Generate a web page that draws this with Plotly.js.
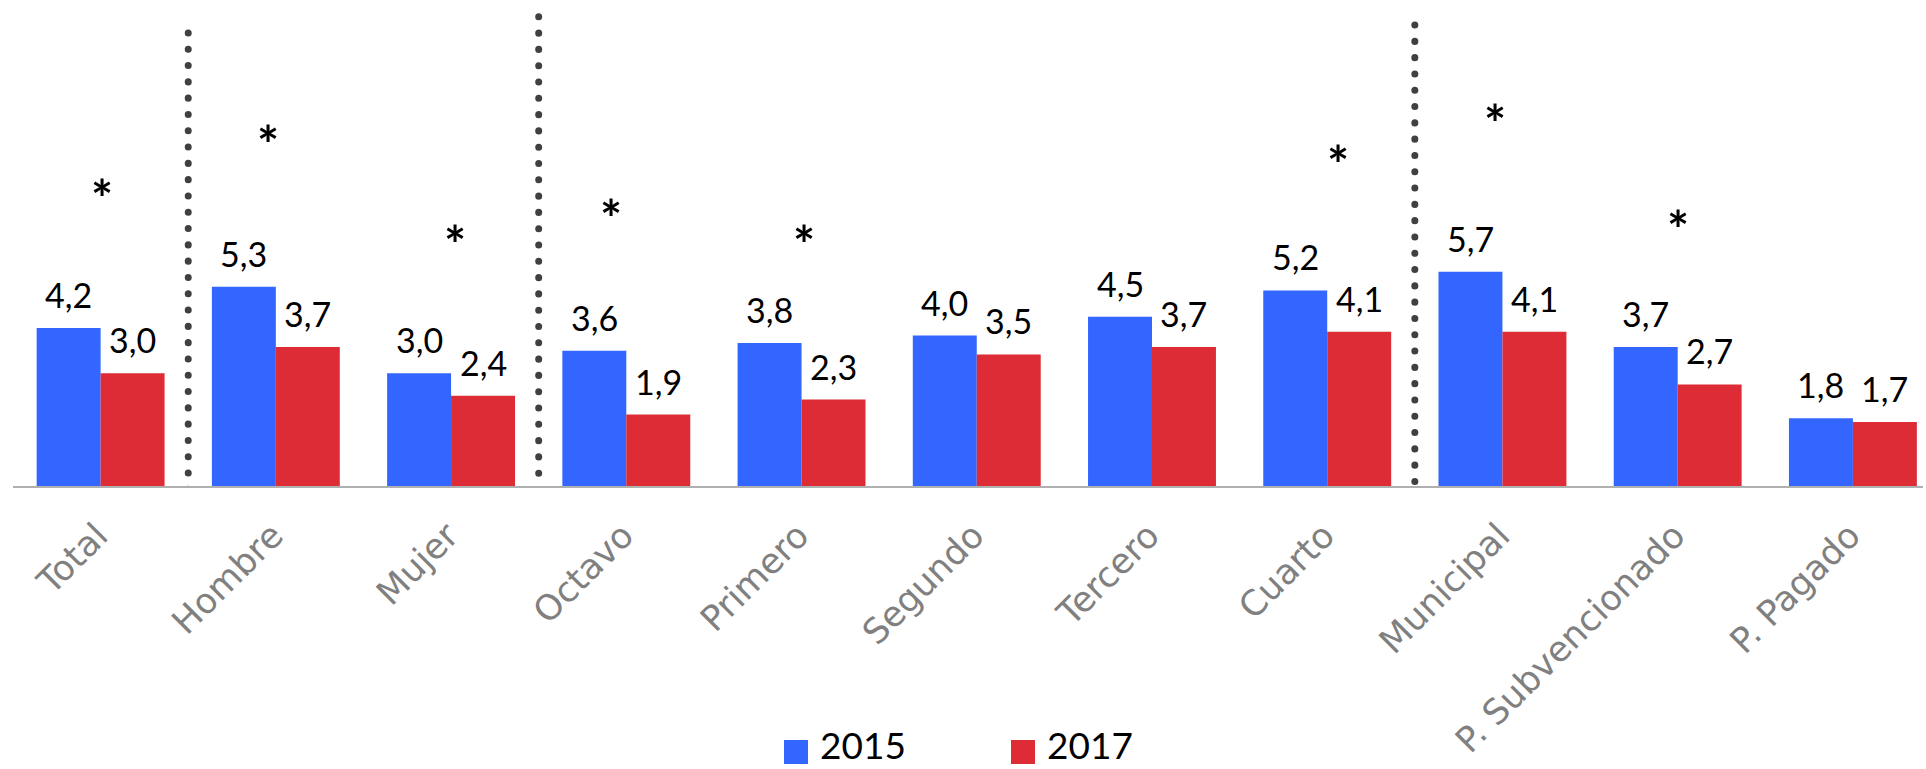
<!DOCTYPE html>
<html>
<head>
<meta charset="utf-8">
<script src="https://cdn.plot.ly/plotly-3.0.1.min.js"></script>
<style>
  html, body { margin: 0; padding: 0; background: #fff; }
  #chart { width: 1926px; height: 769px; }
</style>
</head>
<body>
<div id="chart"></div>
<script>
// ---------------- data ----------------
const categories = ['Total', 'Hombre', 'Mujer', 'Octavo', 'Primero', 'Segundo', 'Tercero', 'Cuarto', 'Municipal', 'P. Subvencionado', 'P. Pagado'];
const seriesNames = ['2015', '2017'];
const values2015 = [4.2, 5.3, 3.0, 3.6, 3.8, 4.0, 4.5, 5.2, 5.7, 3.7, 1.8];
const values2017 = [3.0, 3.7, 2.4, 1.9, 2.3, 3.5, 3.7, 4.1, 4.1, 2.7, 1.7];
const significant = [true, true, true, true, true, false, false, true, true, true, false];
const groupEndsAfter = ['Total', 'Mujer', 'Cuarto'];

// ---------------- styling / placement ----------------
const colors = ['#3366ff', '#dd2c35'];
const bargap = 0.27;
// star heights (axis units) and horizontal nudges (px)
const starLevel = [7.95, 9.39, 6.73, 7.42, 6.73, null, null, 8.86, 9.95, 7.13, null];
const starNudge = [1, -8, 4, -15, 2, 0, 0, 11, -7, 0, 0];
const sepTop = [12.05, 12.48, 12.26];

const M = {l: 13, r: 3, t: 0, b: 283};
const W = 1926, H = 769;
const plotW = W - M.l - M.r, plotH = H - M.t - M.b;
const px2paperX = p => (p - M.l) / plotW;
const px2paperY = p => (M.t + plotH - p) / plotH;

const fmt = v => v.toFixed(1).replace('.', ',');

const traces = [values2015, values2017].map((vals, k) => ({
  type: 'bar',
  name: seriesNames[k],
  x: categories,
  y: vals,
  marker: {color: colors[k]},
  showlegend: false,
  hoverinfo: 'x+y+name'
}));

const annotations = [];
const half = (1 - bargap) / 4;
[values2015, values2017].forEach((vals, k) => {
  vals.forEach((v, i) => {
    annotations.push({
      x: i + (k === 0 ? -half : half), y: v, xref: 'x', yref: 'y',
      text: fmt(v), showarrow: false, xanchor: 'center', yanchor: 'bottom',
      yshift: 11,
      font: {family: 'Lato, "Open Sans", sans-serif', size: 34, color: '#000'}
    });
  });
});
significant.forEach((s, i) => {
  if (!s) return;
  annotations.push({
    x: i, y: starLevel[i], xref: 'x', yref: 'y', text: '*', showarrow: false,
    xanchor: 'center', yanchor: 'middle', xshift: starNudge[i], yshift: -11,
    font: {family: 'Lato, "Open Sans", sans-serif', size: 52, color: '#000', weight: 'bold'}
  });
});

// custom legend
const legendItems = [
  {sq: [784, 808], text: 818},
  {sq: [1011, 1035], text: 1045}
];
const shapes = [];
legendItems.forEach((it, k) => {
  shapes.push({
    type: 'rect', xref: 'paper', yref: 'paper',
    x0: px2paperX(it.sq[0]), x1: px2paperX(it.sq[1]),
    y0: px2paperY(764), y1: px2paperY(740),
    fillcolor: colors[k], line: {width: 0}
  });
  annotations.push({
    xref: 'paper', yref: 'paper', x: px2paperX(it.text), y: px2paperY(769),
    xanchor: 'left', yanchor: 'bottom', showarrow: false, text: seriesNames[k],
    font: {family: 'Lato, "Open Sans", sans-serif', size: 37, color: '#000'}
  });
});

groupEndsAfter.forEach((c, j) => {
  const idx = categories.indexOf(c) + 0.5;
  shapes.push({
    type: 'line', xref: 'x', yref: 'y', x0: idx, x1: idx, y0: sepTop[j], y1: -0.1,
    line: {color: '#404040', width: 7, dash: '0.1px,16.2px'},
    layer: 'above'
  });
});

const layout = {
  width: W, height: H,
  margin: M,
  paper_bgcolor: '#ffffff', plot_bgcolor: '#ffffff',
  barmode: 'group', bargap: bargap, bargroupgap: 0,
  showlegend: false,
  xaxis: {
    type: 'category', range: [-0.5, 10.4], automargin: false,
    showline: true, linecolor: '#b0b0b0', linewidth: 2,
    ticks: '', showgrid: false, zeroline: false, tickangle: -45,
    ticklabelstandoff: 13, ticklabelshift: -3,
    tickfont: {family: 'DejaVu Sans, sans-serif', size: 35, color: '#808080'}
  },
  yaxis: {range: [0, plotH / 37.6], visible: false, showgrid: false, zeroline: false, automargin: false},
  annotations: annotations,
  shapes: shapes
};

Plotly.newPlot('chart', traces, layout, {displayModeBar: false, staticPlot: true}).then(() => {
  document.querySelectorAll('.shapelayer path').forEach(p => {
    if ((p.getAttribute('style') || '').indexOf('stroke-dasharray') >= 0) {
      p.style.strokeLinecap = 'round';
    }
  });
});
</script>
</body>
</html>
